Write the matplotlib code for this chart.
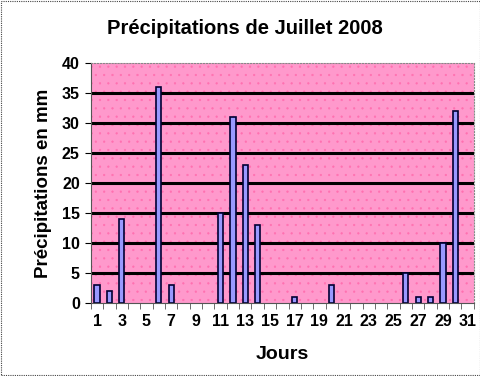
import matplotlib.pyplot as plt
from matplotlib.patches import Rectangle

# Daily rainfall, July 2008
days = list(range(1, 32))
rain = [3, 2, 14, 0, 0, 36, 3, 0, 0, 0, 15, 31, 23, 13, 0, 0, 1, 0, 0, 3,
        0, 0, 0, 0, 0, 5, 1, 1, 10, 32, 0]
tick_days = list(range(1, 32, 2))
y_ticks = [0, 5, 10, 15, 20, 25, 30, 35, 40]

plt.rcParams['font.family'] = ['Liberation Sans', 'DejaVu Sans']
plt.rcParams['hatch.linewidth'] = 0.4

fig = plt.figure(figsize=(4.81, 3.76), dpi=100)
ax = fig.add_axes([0.189, 0.194, 0.796, 0.638])

# pink dotted background
ax.set_facecolor('#FF99CC')
ax.add_patch(Rectangle((0, 0), 1, 1, transform=ax.transAxes, facecolor='none',
                       edgecolor='#FF70B0', hatch='..', linewidth=0, zorder=0.5))

for y in y_ticks[1:-1]:
    ax.axhline(y, color='black', linewidth=2.2, zorder=1)

# only days with rain get a bar
wet_days = [d for d, r in zip(days, rain) if r > 0]
wet_rain = [r for r in rain if r > 0]
ax.bar(wet_days, wet_rain, width=0.42, color='#9999FF', edgecolor='#000033',
       linewidth=1.2, zorder=2)

ax.set_xlim(0.5, 31.5)
ax.set_ylim(0, 40)
ax.set_yticks(y_ticks)
ax.set_xticks(tick_days)
ax.set_xticks([d + 0.5 for d in range(0, 32)], minor=True)
ax.tick_params(axis='x', which='major', length=0, pad=8, labelsize=11.5)
ax.tick_params(axis='x', which='minor', length=4, direction='out', color='#555555')
ax.tick_params(axis='y', length=4, labelsize=11.5, pad=4)
for lbl in ax.get_xticklabels() + ax.get_yticklabels():
    lbl.set_fontweight('bold')

for side in ['top', 'right']:
    ax.spines[side].set_color('#888888')
    ax.spines[side].set_linestyle(':')
ax.spines['left'].set_color('#555555')
ax.spines['bottom'].set_color('#555555')

ax.set_xlabel('Jours', fontsize=14, fontweight='bold', labelpad=12)
ax.set_ylabel('Précipitations en mm', fontsize=13.5, fontweight='bold', labelpad=7)
fig.text(0.51, 0.925, 'Précipitations de Juillet 2008', ha='center', va='center',
         fontsize=14.5, fontweight='bold')

# dashed outer frame
fig.patches.append(Rectangle((0.002, 0.003), 0.995, 0.994, transform=fig.transFigure,
                             fill=False, edgecolor='#444444', linestyle=(0, (1, 1)),
                             linewidth=0.8))

fig.savefig('out.png', dpi=100)
